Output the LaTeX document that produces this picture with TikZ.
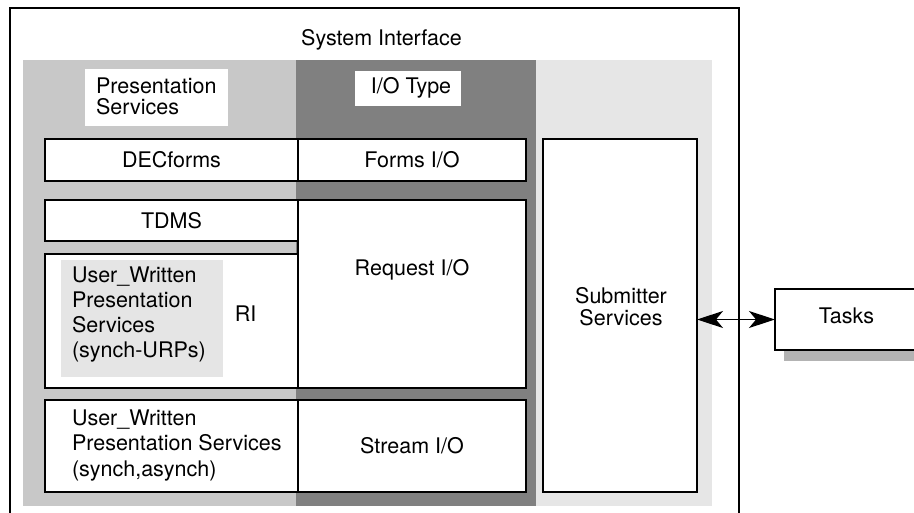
\documentclass[tikz,border=0pt]{standalone}
\usepackage{fontspec}
\setmainfont{TeX Gyre Heros}
\usetikzlibrary{arrows.meta}
\definecolor{panelL}{HTML}{C8C8C8}
\definecolor{panelM}{HTML}{808080}
\definecolor{panelR}{HTML}{E6E6E6}
\definecolor{innerG}{HTML}{E5E5E5}
\definecolor{shadowc}{HTML}{B3B3B3}
\begin{document}
\begin{tikzpicture}[x=1pt,y=-1pt,
  every node/.style={font=\fontsize{21.5}{25}\selectfont, inner sep=0pt, outer sep=0pt},
  box/.style={draw, line width=2.9pt, fill=white},
  one/.style={text height=15pt, text depth=0pt},
  txt/.style={anchor=base},
  txtl/.style={anchor=base west, align=left},
  frame/.style={draw, line width=2.9pt},
  conn/.style={line width=1.4pt, {Stealth[length=26pt,width=17pt,inset=7pt]}-{Stealth[length=26pt,width=17pt,inset=7pt]}}
]
\useasboundingbox (0,0) rectangle (914,512);
\clip (0,0) rectangle (914,512);
\fill[white] (0,0) rectangle (914,512);

% outer frame (bottom edge lies below the picture)
\draw[frame] (10,540) -- (10,8) -- (739,8) -- (739,540);
\node[txt] (sysint) at (381.5,45) {System Interface};

% background columns
\fill[panelL] (23,60) rectangle (296,506);
\fill[panelM] (296,60) rectangle (536,506);
\fill[panelR] (536,60) rectangle (712,506);

% header labels
\node[fill=white, minimum width=143pt, minimum height=57pt] (pshead) at (156.5,97.5) {};
\node[txtl, font=\fontsize{21.5}{21}\selectfont] (pstext) at (96,114) {Presentation\\Services};
\node[fill=white, minimum width=106pt, minimum height=35pt] (iohead) at (408,88.5) {};
\node[txt] (iotext) at (411,93) {I/O Type};

% rows
\node[box, one, minimum width=253pt, minimum height=42pt] (decf) at (171.5,160) {DECforms};
\node[box, one, minimum width=228pt, minimum height=42pt] (forms) at (412,160) {Forms I/O};
\node[box, one, minimum width=253pt, minimum height=41pt] (tdms) at (171.5,220.5) {TDMS};
\node[box, minimum width=228pt, minimum height=188pt] (req) at (412,294) {};
\node[txt] (reqtext) at (412,275) {Request I/O};
\node[box, minimum width=253pt, minimum height=134pt] (ri) at (171.5,321) {};
\node[fill=innerG, minimum width=162pt, minimum height=117pt] (uwp1) at (142,318.5) {};
\node[txtl, font=\fontsize{21.5}{24.7}\selectfont] (uwp1text) at (72,357) {User\_Written\\Presentation\\Services\\(synch-URPs)};
\node[txt] (ritext) at (245.5,321) {RI};
\node[box, minimum width=253pt, minimum height=92pt] (strl) at (171.5,446) {};
\node[txtl, font=\fontsize{21.5}{25.5}\selectfont] (strltext) at (72,476) {User\_Written\\Presentation Services\\(synch,asynch)};
\node[box, one, minimum width=228pt, minimum height=92pt] (strr) at (412,446) {Stream I/O};

% submitter
\node[box, minimum width=154pt, minimum height=353pt] (sub) at (620,315.5) {};
\node[txt, align=center, font=\fontsize{21.5}{22}\selectfont] (subtext) at (621,325) {Submitter\\Services};

% tasks with shadow
\fill[shadowc] (784,300) rectangle (930,361);
\node[box, one, minimum width=143pt, minimum height=61pt] (tasks) at (846.5,319.5) {\raisebox{4pt}{Tasks}};

\draw[conn] (sub.east |- tasks.west) -- (tasks.west);
\end{tikzpicture}
\end{document}
